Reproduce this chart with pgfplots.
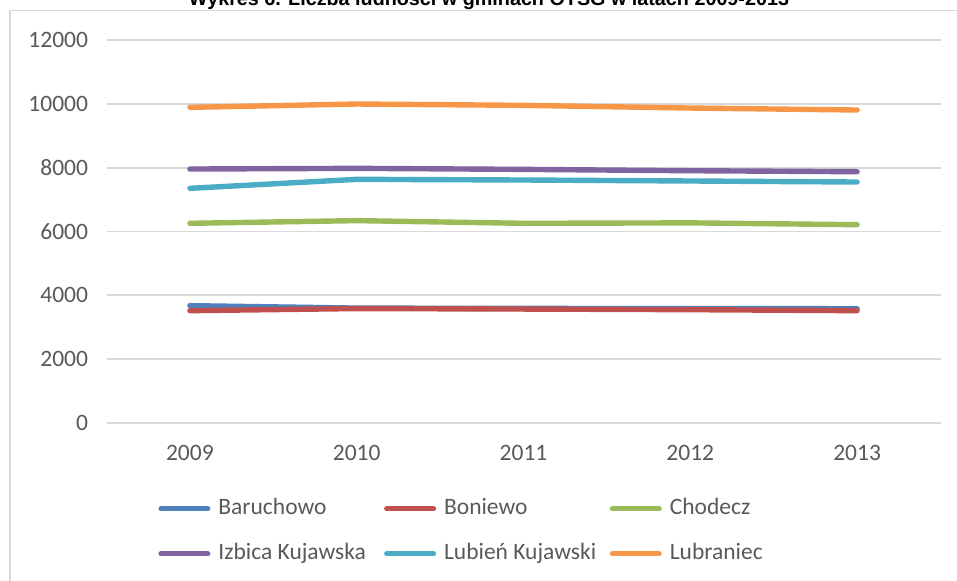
\documentclass[border=0pt]{standalone}
\usepackage{fontspec}
\setmainfont{Carlito}
\newfontfamily\titlefont{Liberation Sans}
\usepackage{pgfplots}
\pgfplotsset{compat=1.18}
\definecolor{cBaru}{HTML}{4F81BD}
\definecolor{cBoni}{HTML}{C0504D}
\definecolor{cChod}{HTML}{9BBB59}
\definecolor{cIzb}{HTML}{8064A2}
\definecolor{cLub}{HTML}{4BACC6}
\definecolor{cLubr}{HTML}{F79646}
\definecolor{cGrid}{HTML}{D9D9D9}
\definecolor{cText}{HTML}{595959}
\newcommand{\lgent}[1]{\makebox[82.85pt][l]{#1}}
\begin{document}
\begin{tikzpicture}
\begin{axis}[
  at={(53.25pt,79pt)}, anchor=south west,
  scale only axis, width=417pt, height=191.5pt,
  xmin=-0.5, xmax=4.5, ymin=0, ymax=12000,
  xtick={0,1,2,3,4}, xticklabels={2009,2010,2011,2012,2013},
  ytick={0,2000,4000,6000,8000,10000,12000},
  /pgf/number format/assume math mode=true,
  scaled y ticks=false,
  yticklabel={\pgfmathprintnumber[fixed,1000 sep={}]{\tick}},
  ymajorgrids, grid style={cGrid, line width=0.9pt},
  axis line style={draw=none},
  major tick length=0pt,
  tick label style={font=\fontsize{11.75}{14}\selectfont, text=cText},
  yticklabel style={xshift=-5.7pt},
  xticklabel style={yshift=-7.4pt},
  every axis plot/.append style={line width=2.7pt, line cap=round, line join=round},
  legend columns=3,
  legend image code/.code={\draw[line width=2.6pt, line cap=round] (1.3pt,0pt) -- (24.7pt,0pt);},
  legend style={
    at={(0.06175,-0.1945)}, anchor=north west,
    draw=none, fill=none, inner sep=0pt, row sep=11.5pt,
    font=\fontsize{11.75}{14}\selectfont, text=cText,
    nodes={inner sep=0pt, text height=8.25pt, text depth=2.75pt},
    /tikz/every odd column/.append style={column sep=4pt},
    /tikz/every even column/.append style={column sep=0pt},
  },
]
\addplot[cBaru] coordinates {(0,3676) (1,3600) (2,3590) (3,3585) (4,3580)};
\addlegendentry{\lgent{Baruchowo}}
\addplot[cBoni] coordinates {(0,3519) (1,3585) (2,3570) (3,3550) (4,3519)};
\addlegendentry{\lgent{Boniewo}}
\addplot[cChod] coordinates {(0,6256) (1,6340) (2,6256) (3,6270) (4,6213)};
\addlegendentry{\lgent{Chodecz}}
\addplot[cIzb] coordinates {(0,7957) (1,7978) (2,7946) (3,7904) (4,7873)};
\addlegendentry{\lgent{Izbica Kujawska}}
\addplot[cLub] coordinates {(0,7352) (1,7634) (2,7613) (3,7582) (4,7550)};
\addlegendentry{\lgent{Lubień Kujawski}}
\addplot[cLubr] coordinates {(0,9889) (1,9994) (2,9952) (3,9868) (4,9806)};
\addlegendentry{\lgent{Lubraniec}}
\end{axis}
\draw[cGrid, line width=0.9pt] (5pt,-2pt) -- (5pt,285.25pt) -- (481pt,285.25pt);
\node[anchor=base, inner sep=0pt] at (244.5pt,287.5pt) {\resizebox{300pt}{!}{\titlefont\bfseries\fontsize{10}{12}\selectfont Wykres 6. Liczba ludności w gminach OTSG w latach 2009-2013}};
\pgfresetboundingbox
\useasboundingbox (0,0) rectangle (478.5pt,290.5pt);
\end{tikzpicture}
\end{document}
